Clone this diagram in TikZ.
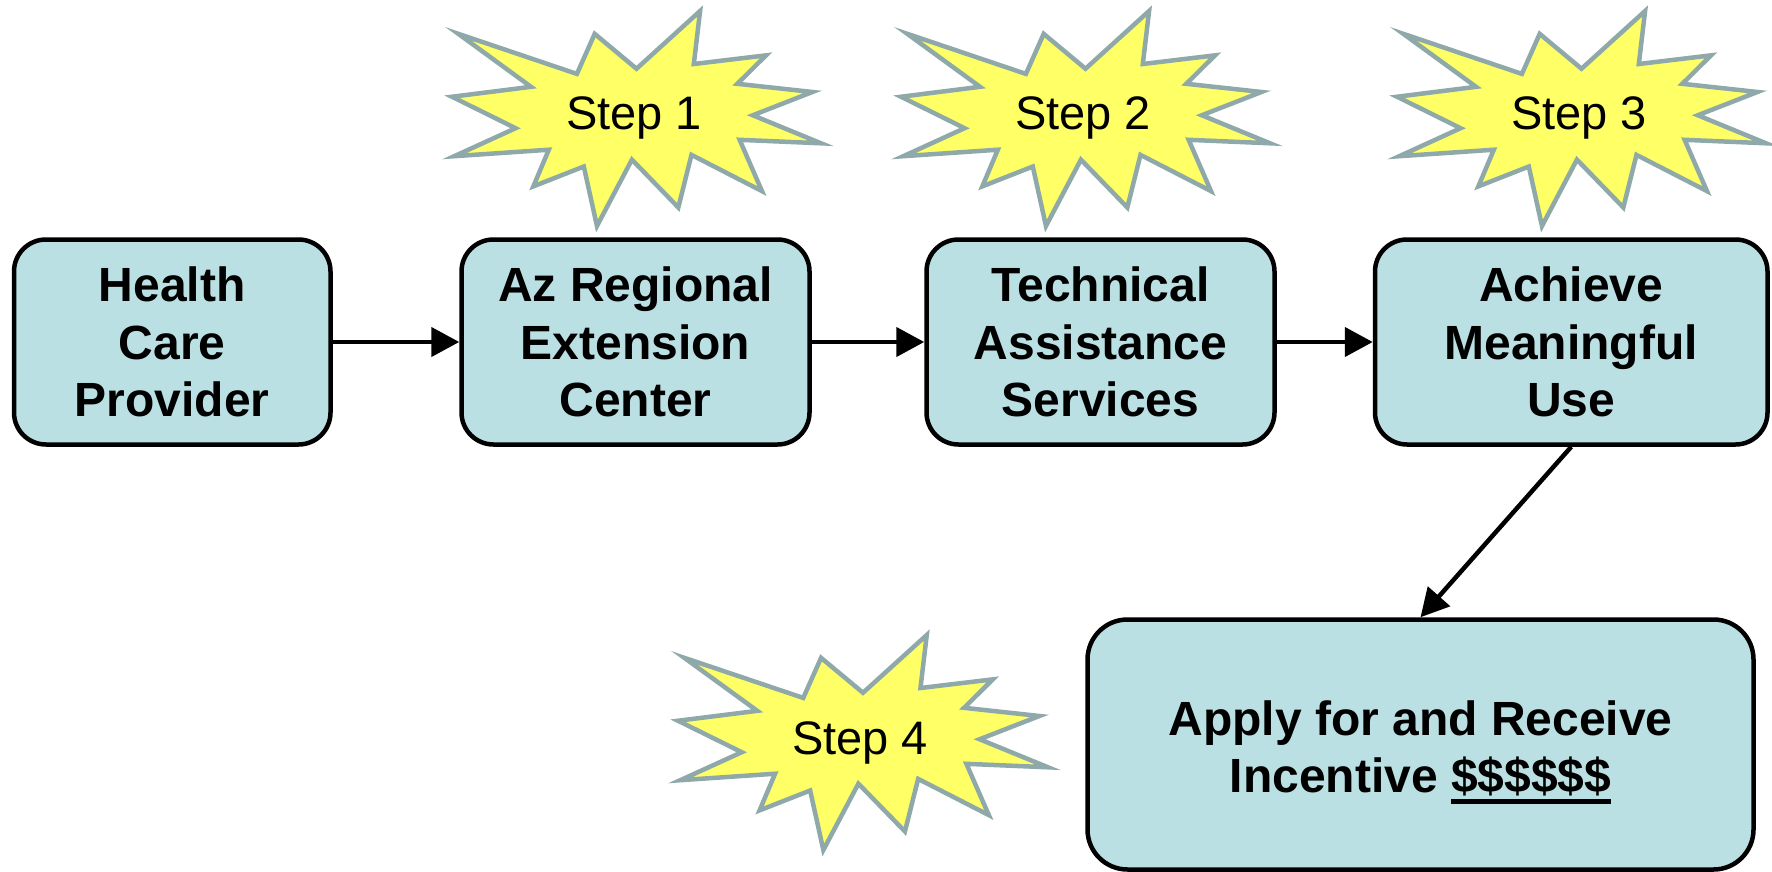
\documentclass[tikz,border=0pt]{standalone}
\usepackage{fontspec}
\setmainfont{Liberation Sans}
\usetikzlibrary{arrows.meta}
\definecolor{boxfill}{HTML}{BBE0E3}
\definecolor{starfill}{HTML}{FFFF66}
\definecolor{starline}{HTML}{8FA8AA}
\newcommand\dollarul[1]{\setbox0\hbox{#1}\rlap{\smash{\rule[-11pt]{\wd0}{5pt}}}\box0}
\begin{document}
\begin{tikzpicture}[x=1pt,y=-1pt,
  box/.style={draw=black, line width=4.5pt, fill=boxfill, rounded corners=32pt,
    align=center, inner sep=0pt, font=\bfseries\fontsize{48}{57.5}\selectfont},
  flow/.style={line width=4.5pt, -{Triangle[length=28pt,width=29pt]}},
  burststyle/.style={draw=starline, fill=starfill, line width=4.5pt},
  steptext/.style={anchor=base, inner sep=0pt, font=\fontsize{47}{56}\selectfont},
  burst/.pic={\path[burststyle] (0.5,0.26852) -- (0.67231,0) -- (0.65532,0.24653)
    -- (0.85093,0.20634) -- (0.77324,0.33866) -- (0.97671,0.37671)
    -- (0.81514,0.48495) -- (1,0.61528) -- (0.77949,0.59917)
    -- (0.84005,0.83773) -- (0.64907,0.66931) -- (0.61329,0.91375)
    -- (0.48759,0.69144) -- (0.39282,1) -- (0.35718,0.72347)
    -- (0.22046,0.8156) -- (0.26236,0.64523) -- (0.00625,0.67532)
    -- (0.17231,0.54514) -- (0,0.39884) -- (0.21421,0.35264)
    -- (0.01713,0.10625) -- (0.33852,0.29259) -- (0.38667,0.10625) -- cycle;}
]
\useasboundingbox (0,0) rectangle (1772,872);
% starbursts
\pic[shift={(452,11)}, xscale=369, yscale=215] {burst};
\pic[shift={(901,11)}, xscale=369, yscale=215] {burst};
\pic[shift={(1397,11)}, xscale=369, yscale=215] {burst};
\pic[shift={(678,635)}, xscale=370, yscale=215] {burst};
\node[steptext] (s1) at (634,130) {Step 1};
\node[steptext] (s2) at (1083,130) {Step 2};
\node[steptext] (s3) at (1579,130) {Step 3};
\node[steptext] (s4) at (860,754) {Step 4};
% boxes
\node[box, minimum width=316.5pt, minimum height=205pt] (b1) at (172.25,342) {Health\\Care\\Provider};
\node[box, minimum width=348pt, minimum height=205pt] (b2) at (635.5,342) {Az Regional\\Extension\\Center};
\node[box, minimum width=348pt, minimum height=205pt] (b3) at (1100.5,342) {Technical\\Assistance\\Services};
\node[box, minimum width=392.5pt, minimum height=205pt] (b4) at (1571.25,342) {Achieve\\Meaningful\\Use};
\node[box, minimum width=666pt, minimum height=250pt, rounded corners=40pt] (b5) at (1420.5,744.5) {\rule{0pt}{43pt}Apply for and Receive\\Incentive \dollarul{\$\$\$\$\$\$}};
% connectors
\draw[flow] (b1.east) -- (b2.west);
\draw[flow] (b2.east) -- (b3.west);
\draw[flow] (b3.east) -- (b4.west);
\draw[flow] (b4.south) -- (b5.north);
\end{tikzpicture}
\end{document}
